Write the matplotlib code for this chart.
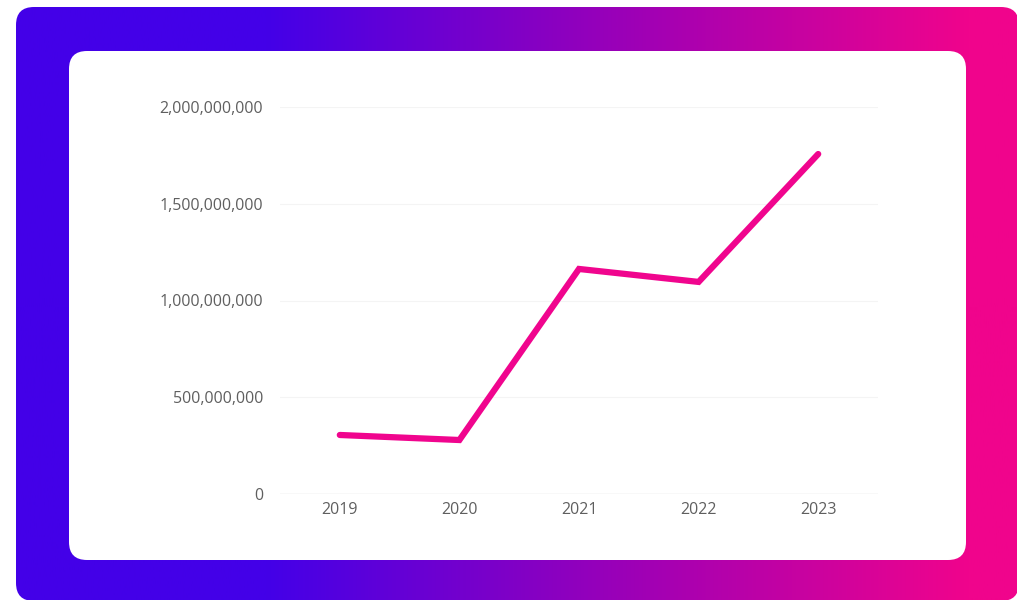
import numpy as np
import matplotlib.pyplot as plt
from matplotlib.patches import FancyBboxPatch
from matplotlib.colors import LinearSegmentedColormap
from matplotlib.ticker import FuncFormatter

# data
years = ['2019', '2020', '2021', '2022', '2023']
values = [305e6, 279e6, 1163e6, 1096e6, 1757e6]
yticks = [0, 500e6, 1000e6, 1500e6, 2000e6]

W, H = 1017, 600
fig = plt.figure(figsize=(W / 100, H / 100), dpi=100)
fig.patch.set_facecolor('white')

# background with gradient frame
bg = fig.add_axes([0, 0, 1, 1])
bg.set_xlim(0, W)
bg.set_ylim(H, 0)
bg.axis('off')

cmap = LinearSegmentedColormap.from_list('grad', [(0, '#4300E8'), (0.25, '#4300E8'),
                                                   (0.6, '#9A00B8'), (0.95, '#F0048C'),
                                                   (1, '#F0048C')])
grad = np.linspace(0, 1, 512).reshape(1, -1)
img = bg.imshow(grad, cmap=cmap, extent=[16, 1019, 601, 7], aspect='auto', zorder=1)
frame = FancyBboxPatch((16, 7), 1003, 594, boxstyle='round,pad=0,rounding_size=18',
                       transform=bg.transData, facecolor='none', edgecolor='none')
bg.add_patch(frame)
img.set_clip_path(frame)

card = FancyBboxPatch((69, 51), 897, 509, boxstyle='round,pad=0,rounding_size=18',
                      facecolor='white', edgecolor='none', zorder=2)
bg.add_patch(card)

# chart axes
x0, x1 = 280, 878
ytop, ybot = 107, 494
ax = fig.add_axes([x0 / W, 1 - ybot / H, (x1 - x0) / W, (ybot - ytop) / H])
ax.set_facecolor('none')

x = np.arange(len(years))
ax.plot(x, values, color='#F0058E', linewidth=4.5, solid_capstyle='round',
        solid_joinstyle='miter', zorder=3)

ax.set_xlim(-0.5, len(years) - 0.5)
ax.set_ylim(0, 2000e6)
ax.set_xticks(x)
ax.set_xticklabels(years)
ax.set_yticks(yticks)
ax.yaxis.set_major_formatter(FuncFormatter(lambda v, p: f'{int(v):,}'))
ax.grid(axis='y', color='#F4F4F4', linewidth=0.8)
ax.set_axisbelow(True)
for s in ax.spines.values():
    s.set_visible(False)
ax.axhline(0, color='#E2E2E2', linewidth=1.0, zorder=1)
ax.tick_params(length=0, colors='#5F5F5F', labelsize=11.5)
ax.tick_params(axis='x', pad=6)
ax.tick_params(axis='y', pad=12)
for lab in ax.get_xticklabels() + ax.get_yticklabels():
    lab.set_fontfamily('Open Sans')

fig.savefig('out.png', dpi=100)
